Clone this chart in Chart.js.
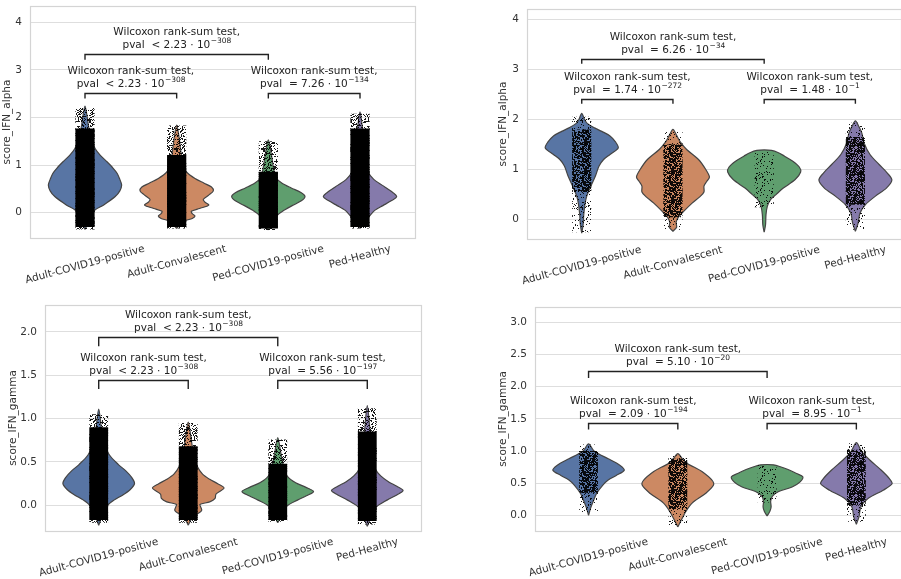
<!DOCTYPE html>
<html>
<head>
<meta charset="utf-8">
<script src="https://cdn.jsdelivr.net/npm/chart.js@4.4.1/dist/chart.umd.min.js"></script>
<style>
  body { margin: 0; background: #fff; }
  #wrap { position: relative; width: 901px; height: 579px; overflow: hidden; }
  #wrap canvas { position: absolute; left: 0; top: 0; }
</style>
</head>
<body>
<div id="wrap">
  <canvas id="alphaCells" width="901" height="579"></canvas>
  <canvas id="alphaSampled" width="901" height="579"></canvas>
  <canvas id="gammaCells" width="901" height="579"></canvas>
  <canvas id="gammaSampled" width="901" height="579"></canvas>
</div>
<script>
// groups and colours
const groups = ['Adult-COVID19-positive', 'Adult-Convalescent', 'Ped-COVID19-positive', 'Ped-Healthy'];
const groupColors = ['#5875a4', '#cc8963', '#5f9e6e', '#857aab'];
const comparisons = [[0, 1], [2, 3], [0, 2]];

const alphaTicks = [0, 1, 2, 3, 4];
const gammaCellTicks = [0, 0.5, 1, 1.5, 2];
const gammaSampledTicks = [0, 0.5, 1, 1.5, 2, 2.5, 3];

// violin profiles: [score, half width in category units]
const alphaCellsViolins = [
  [[-0.35,0],[-0.2,0.04],[-0.05,0.08],[0.06,0.11],[0.16,0.2],[0.34,0.33],[0.46,0.38],[0.58,0.4],[0.7,0.38],[0.83,0.35],[0.95,0.3],[1.07,0.24],[1.2,0.17],[1.35,0.11],[1.55,0.07],[1.8,0.04],[2.0,0.025],[2.24,0]],
  [[-0.33,0],[-0.22,0.05],[-0.16,0.1],[-0.12,0.17],[-0.07,0.2],[-0.02,0.17],[0.03,0.16],[0.09,0.25],[0.16,0.35],[0.22,0.31],[0.28,0.29],[0.37,0.35],[0.46,0.4],[0.54,0.38],[0.62,0.3],[0.72,0.2],[0.85,0.11],[1.0,0.07],[1.3,0.045],[1.6,0.025],[1.84,0]],
  [[-0.36,0],[-0.2,0.05],[-0.05,0.1],[0.05,0.17],[0.15,0.26],[0.25,0.36],[0.34,0.4],[0.42,0.36],[0.52,0.25],[0.62,0.15],[0.72,0.09],[0.9,0.06],[1.2,0.035],[1.53,0]],
  [[-0.33,0],[-0.2,0.05],[-0.08,0.1],[0.05,0.16],[0.15,0.25],[0.25,0.34],[0.34,0.4],[0.45,0.34],[0.58,0.24],[0.7,0.15],[0.85,0.09],[1.1,0.06],[1.5,0.04],[1.8,0.025],[2.12,0]]
];
const alphaCellsCore = [[-0.3, 1.77], [-0.3, 1.21], [-0.33, 0.86], [-0.3, 1.77]];
const alphaCellsRange = [[-0.35, 2.2], [-0.33, 1.83], [-0.36, 1.5], [-0.33, 2.08]];
const alphaCellsPvals = [['<', '2.23', '308'], ['=', '7.26', '134'], ['<', '2.23', '308']];

const alphaSampledViolins = [
  [[-0.27,0],[-0.1,0.015],[0.1,0.022],[0.3,0.035],[0.47,0.055],[0.67,0.1],[0.87,0.15],[1.07,0.19],[1.2,0.24],[1.3,0.31],[1.43,0.4],[1.55,0.37],[1.67,0.31],[1.76,0.22],[1.83,0.14],[1.92,0.06],[2.0,0.03],[2.12,0]],
  [[-0.23,0],[-0.15,0.04],[-0.05,0.035],[0.05,0.06],[0.17,0.12],[0.33,0.21],[0.45,0.29],[0.55,0.34],[0.67,0.34],[0.76,0.37],[0.85,0.4],[1.0,0.36],[1.2,0.28],[1.4,0.15],[1.55,0.08],[1.68,0.04],[1.8,0]],
  [[-0.25,0],[-0.1,0.015],[0.1,0.02],[0.27,0.035],[0.4,0.07],[0.5,0.13],[0.63,0.21],[0.8,0.34],[0.95,0.4],[1.05,0.385],[1.17,0.31],[1.27,0.22],[1.34,0.15],[1.38,0.08],[1.39,0]],
  [[-0.23,0],[-0.07,0.03],[0.13,0.05],[0.3,0.11],[0.47,0.22],[0.63,0.34],[0.79,0.4],[0.93,0.35],[1.1,0.26],[1.3,0.16],[1.53,0.095],[1.73,0.07],[1.85,0.04],[1.97,0]]
];
const alphaSampledCore = [[0.55, 1.8], [0.05, 1.5], null, [0.3, 1.65]];
const alphaSampledRange = [[-0.25, 2.05], [-0.2, 1.75], [0.25, 1.35], [-0.2, 1.93]];
const alphaSampledPvals = [['=', '1.74', '272'], ['=', '1.48', '1'], ['=', '6.26', '34']];

const gammaCellsViolins = [
  [[-0.23,0],[-0.12,0.04],[0.0,0.1],[0.06,0.17],[0.12,0.27],[0.18,0.35],[0.25,0.4],[0.32,0.37],[0.4,0.3],[0.47,0.22],[0.58,0.12],[0.7,0.07],[0.85,0.035],[1.11,0]],
  [[-0.23,0],[-0.15,0.04],[-0.1,0.1],[-0.06,0.15],[-0.02,0.14],[0.01,0.13],[0.04,0.24],[0.08,0.3],[0.13,0.31],[0.2,0.4],[0.25,0.33],[0.3,0.24],[0.36,0.16],[0.45,0.1],[0.58,0.06],[0.75,0.035],[0.96,0]],
  [[-0.2,0],[-0.1,0.05],[-0.01,0.1],[0.06,0.22],[0.11,0.32],[0.16,0.4],[0.21,0.31],[0.26,0.2],[0.33,0.11],[0.45,0.065],[0.6,0.035],[0.78,0]],
  [[-0.24,0],[-0.12,0.05],[-0.02,0.1],[0.06,0.22],[0.12,0.33],[0.17,0.4],[0.22,0.33],[0.27,0.24],[0.34,0.15],[0.42,0.09],[0.55,0.06],[0.8,0.035],[1.15,0]]
];
const gammaCellsCore = [[-0.17, 0.9], [-0.17, 0.68], [-0.17, 0.48], [-0.18, 0.85]];
const gammaCellsRange = [[-0.2, 1.05], [-0.2, 0.95], [-0.19, 0.76], [-0.22, 1.12]];
const gammaCellsPvals = [['<', '2.23', '308'], ['=', '5.56', '197'], ['<', '2.23', '308']];

const gammaSampledViolins = [
  [[0,0],[0.1,0.02],[0.21,0.05],[0.34,0.09],[0.47,0.16],[0.55,0.22],[0.62,0.31],[0.7,0.4],[0.78,0.35],[0.88,0.22],[0.95,0.12],[1.0,0.06],[1.11,0]],
  [[-0.18,0],[-0.07,0.04],[0.06,0.09],[0.19,0.16],[0.34,0.31],[0.47,0.4],[0.55,0.38],[0.68,0.27],[0.75,0.18],[0.81,0.1],[0.88,0.05],[0.96,0]],
  [[-0.01,0],[0.06,0.03],[0.13,0.045],[0.22,0.04],[0.3,0.06],[0.37,0.13],[0.44,0.28],[0.52,0.37],[0.6,0.4],[0.65,0.33],[0.72,0.22],[0.76,0.14],[0.785,0.07],[0.79,0]],
  [[-0.14,0],[-0.02,0.03],[0.13,0.05],[0.26,0.13],[0.39,0.3],[0.49,0.4],[0.57,0.37],[0.7,0.28],[0.86,0.15],[0.99,0.06],[1.13,0]]
];
const gammaSampledCore = [[0.35, 1.0], [0.1, 0.88], null, [0.15, 1.02]];
const gammaSampledRange = [[0.05, 1.1], [-0.15, 0.93], [0.2, 0.78], [-0.1, 1.12]];
const gammaSampledPvals = [['=', '2.09', '194'], ['=', '8.95', '1'], ['=', '5.10', '20']];

const FONT = 'DejaVu Sans';
const TEXT = '#333';

const panels = [
  { id: 'alphaCells', label: 'score_IFN_alpha', ticks: alphaTicks, digits: 0,
    violins: alphaCellsViolins, core: alphaCellsCore, range: alphaCellsRange, pvals: alphaCellsPvals,
    left: 30, top: 6, right: 415, bottom: 238, titleX: 7.5, xMax: 3.6, yMin: -0.53, yMax: 4.34,
    levels: [2.52, 2.52, 3.33], drop: 0.12, coreDots: 1, rangeDots: 0.3 },
  { id: 'alphaSampled', label: 'score_IFN_alpha', ticks: alphaTicks, digits: 0,
    violins: alphaSampledViolins, core: alphaSampledCore, range: alphaSampledRange, pvals: alphaSampledPvals,
    left: 527, top: 9, right: 901, bottom: 239, titleX: 503.5, xMax: 3.5, yMin: -0.385, yMax: 4.2,
    levels: [2.41, 2.41, 3.21], drop: 0.1, coreDots: 0.6, rangeDots: 0.12 },
  { id: 'gammaCells', label: 'score_IFN_gamma', ticks: gammaCellTicks, digits: 1,
    violins: gammaCellsViolins, core: gammaCellsCore, range: gammaCellsRange, pvals: gammaCellsPvals,
    left: 45, top: 305, right: 421, bottom: 531, titleX: 13.3, xMax: 3.6, yMin: -0.296, yMax: 2.31,
    levels: [1.445, 1.445, 1.94], drop: 0.105, coreDots: 1, rangeDots: 0.3 },
  { id: 'gammaSampled', label: 'score_IFN_gamma', ticks: gammaSampledTicks, digits: 1,
    violins: gammaSampledViolins, core: gammaSampledCore, range: gammaSampledRange, pvals: gammaSampledPvals,
    left: 535, top: 307, right: 901, bottom: 531, titleX: 503.3, xMax: 3.5, yMin: -0.244, yMax: 3.24,
    levels: [1.44, 1.44, 2.24], drop: 0.105, coreDots: 0.6, rangeDots: 0.12 }
];

// speckled fill so the strip of points reads as dots, not a flat block
function speckle(coverage) {
  if (coverage >= 1) return '#000';
  const size = 29;
  const tile = document.createElement('canvas');
  tile.width = size;
  tile.height = size;
  const tctx = tile.getContext('2d');
  tctx.fillStyle = 'rgba(0,0,0,0.9)';
  for (let y = 0; y < size; y++) {
    for (let x = 0; x < size; x++) {
      let h = Math.imul(x + 1, 374761393) + Math.imul(y + 1, 668265263);
      h = Math.imul(h ^ (h >>> 13), 1274126177);
      h = (h ^ (h >>> 16)) >>> 0;
      if (h / 4294967296 < coverage) tctx.fillRect(x, y, 1, 1);
    }
  }
  return tctx.createPattern(tile, 'repeat');
}

function violinPoints(profile, i) {
  const right = profile.map(([y, w]) => ({x: i + w, y: y}));
  const left = profile.slice(1, -1).reverse().map(([y, w]) => ({x: i - w, y: y}));
  const pts = right.concat(left);
  pts.push(pts[0]);
  return pts;
}

function bandPoints(i, lo, hi) {
  const w = 0.105;
  return [{x: i - w, y: lo}, {x: i + w, y: lo}, {x: i + w, y: hi}, {x: i - w, y: hi}, {x: i - w, y: lo}];
}

const decorations = {
  id: 'decorations',
  afterDatasetsDraw(chart, args, opts) {
    const p = opts.panel;
    const ctx = chart.ctx;
    const area = chart.chartArea;
    const xs = chart.scales.x;
    const ys = chart.scales.y;

    // frame
    ctx.save();
    ctx.strokeStyle = '#d4d4d4';
    ctx.lineWidth = 1.2;
    ctx.strokeRect(area.left + 0.5, area.top + 0.5, area.right - area.left, area.bottom - area.top);

    // significance brackets
    ctx.strokeStyle = '#222';
    ctx.lineWidth = 1.4;
    ctx.fillStyle = '#222';
    comparisons.forEach(([a, b], k) => {
      const x1 = xs.getPixelForValue(a);
      const x2 = xs.getPixelForValue(b);
      const yl = Math.round(ys.getPixelForValue(p.levels[k])) + 0.5;
      const yt = ys.getPixelForValue(p.levels[k] - p.drop);
      ctx.beginPath();
      ctx.moveTo(x1, yt);
      ctx.lineTo(x1, yl);
      ctx.lineTo(x2, yl);
      ctx.lineTo(x2, yt);
      ctx.stroke();

      const xm = (x1 + x2) / 2;
      ctx.textBaseline = 'middle';
      ctx.textAlign = 'center';
      ctx.font = '10.5px ' + FONT;
      ctx.fillText('Wilcoxon rank-sum test,', xm, yl - 22);

      const [rel, mant, exp] = p.pvals[k];
      const main = 'pval  ' + rel + ' ' + mant + ' \u00b7 10';
      const sup = '\u2212' + exp;
      const mw = ctx.measureText(main).width;
      ctx.font = '7.5px ' + FONT;
      const sw = ctx.measureText(sup).width;
      const start = xm - (mw + sw) / 2;
      ctx.textAlign = 'left';
      ctx.fillText(sup, start + mw + 0.5, yl - 13.5);
      ctx.font = '10.5px ' + FONT;
      ctx.fillText(main, start, yl - 9);
    });

    // category labels, rotated 15 degrees
    const ang = 15 * Math.PI / 180;
    ctx.fillStyle = TEXT;
    ctx.font = '10.5px ' + FONT;
    ctx.textAlign = 'center';
    ctx.textBaseline = 'middle';
    groups.forEach((g, i) => {
      const w = ctx.measureText(g).width;
      const h = w * Math.sin(ang) + 12 * Math.cos(ang);
      const cx = xs.getPixelForValue(i);
      const cy = area.bottom + 5 + h / 2;
      ctx.save();
      ctx.translate(cx, cy);
      ctx.rotate(-ang);
      ctx.fillText(g, 0, 0);
      ctx.restore();
    });
    ctx.restore();
  }
};

function makeChart(p) {
  const datasets = [];
  const rangeFill = speckle(p.rangeDots);
  const coreFill = speckle(p.coreDots);
  p.violins.forEach((profile, i) => {
    datasets.push({
      data: violinPoints(profile, i),
      showLine: true, fill: 'shape', tension: 0.3,
      backgroundColor: groupColors[i], borderColor: '#444', borderWidth: 1.2,
      pointRadius: 0, order: 3
    });
  });
  p.range.forEach((r, i) => {
    datasets.push({
      data: bandPoints(i, r[0], r[1]),
      showLine: true, fill: 'shape', tension: 0,
      backgroundColor: rangeFill, borderColor: 'rgba(0,0,0,0)', borderWidth: 0,
      pointRadius: 0, order: 2
    });
  });
  p.core.forEach((c, i) => {
    if (!c) return;
    datasets.push({
      data: bandPoints(i, c[0], c[1]),
      showLine: true, fill: 'shape', tension: 0,
      backgroundColor: coreFill, borderColor: 'rgba(0,0,0,0)', borderWidth: 0,
      pointRadius: 0, order: 1
    });
  });

  const padLeft = p.titleX - 6.3;
  new Chart(document.getElementById(p.id), {
    type: 'scatter',
    data: { datasets: datasets },
    options: {
      responsive: false,
      animation: false,
      devicePixelRatio: 1,
      layout: { padding: { left: padLeft, top: p.top, right: 901 - p.right, bottom: 579 - p.bottom } },
      plugins: { legend: { display: false }, tooltip: { enabled: false }, decorations: { panel: p } },
      scales: {
        x: { type: 'linear', min: -0.6, max: p.xMax, display: false },
        y: {
          min: p.yMin, max: p.yMax,
          afterFit: s => { s.width = p.left - padLeft; s.paddingTop = 0; s.paddingBottom = 0; },
          afterBuildTicks: s => { s.ticks = p.ticks.map(v => ({value: v})); },
          ticks: { callback: v => v.toFixed(p.digits), color: TEXT, font: { family: FONT, size: 10.5 }, padding: 8 },
          grid: { color: '#dedede', lineWidth: 1, drawTicks: false },
          border: { display: false },
          title: { display: true, text: p.label, color: TEXT, font: { family: FONT, size: 10.5 }, padding: { top: 0, bottom: 0 } }
        }
      }
    },
    plugins: [decorations]
  });
}

panels.forEach(makeChart);
</script>
</body>
</html>
